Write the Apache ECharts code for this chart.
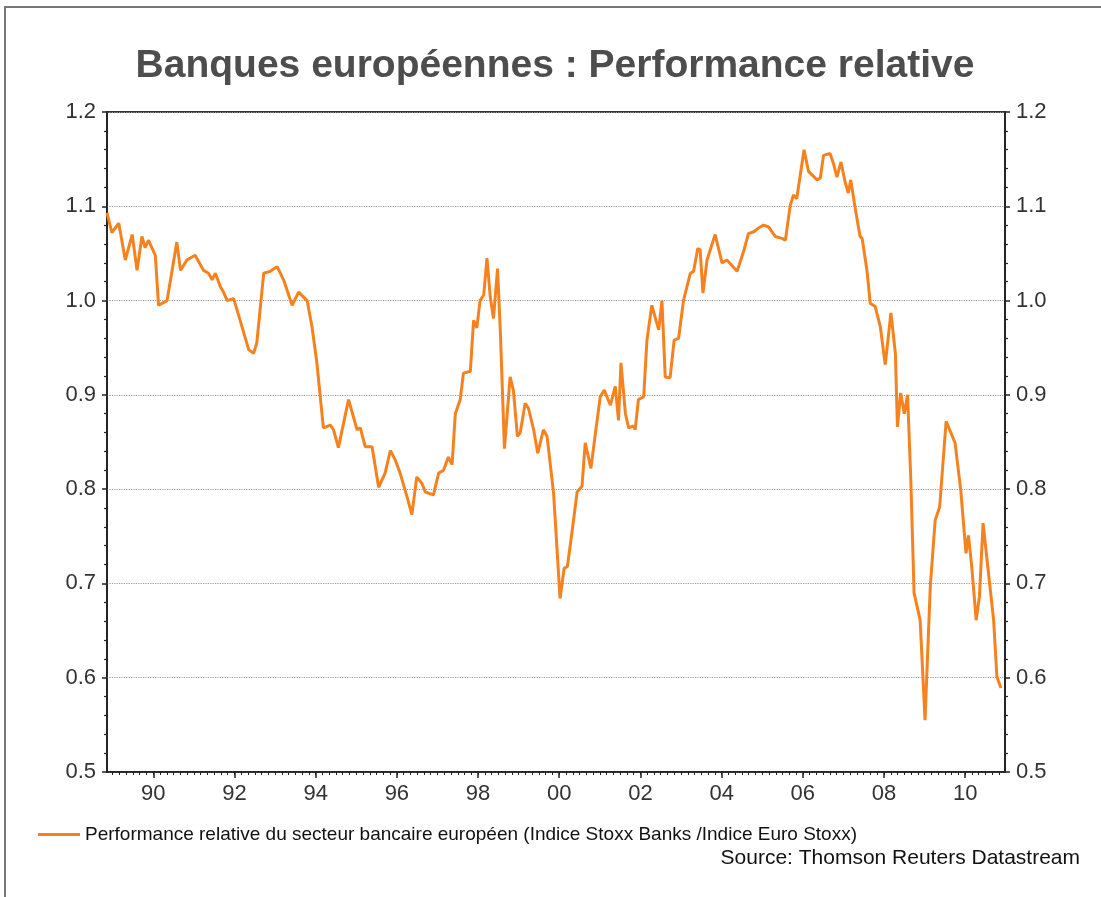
<!DOCTYPE html>
<html><head><meta charset="utf-8">
<script src="https://cdn.jsdelivr.net/npm/echarts@6/dist/echarts.min.js"></script>
<style>html,body{margin:0;padding:0;background:#fff}#c{width:1101px;height:897px}</style>
</head><body><div id="c"></div>
<script>
const titleText = 'Banques européennes : Performance relative';
const seriesName = 'Performance relative du secteur bancaire européen (Indice Stoxx Banks /Indice Euro Stoxx)';
const sourceText = 'Source: Thomson Reuters Datastream';
const xTickValues = [1990,1992,1994,1996,1998,2000,2002,2004,2006,2008,2010];
const xTickLabels = ['90','92','94','96','98','00','02','04','06','08','10'];
const yTickLabels = ['0.5','0.6','0.7','0.8','0.9','1.0','1.1','1.2'];
const years = [1988.86,1988.98,1989.15,1989.31,1989.48,1989.60,1989.72,1989.80,1989.88,1990.05,1990.13,1990.34,1990.58,1990.67,1990.83,1991.03,1991.24,1991.36,1991.45,1991.53,1991.65,1991.73,1991.82,1991.98,1992.14,1992.35,1992.47,1992.55,1992.72,1992.88,1993.05,1993.21,1993.42,1993.58,1993.79,1993.91,1994.03,1994.19,1994.36,1994.44,1994.56,1994.81,1995.02,1995.10,1995.22,1995.39,1995.55,1995.71,1995.84,1995.96,1996.08,1996.25,1996.37,1996.49,1996.62,1996.70,1996.90,1997.03,1997.15,1997.27,1997.36,1997.44,1997.56,1997.64,1997.81,1997.89,1997.97,1998.05,1998.14,1998.22,1998.30,1998.38,1998.48,1998.55,1998.65,1998.79,1998.87,1998.97,1999.04,1999.16,1999.24,1999.37,1999.47,1999.61,1999.70,1999.86,2000.02,2000.12,2000.20,2000.31,2000.44,2000.56,2000.64,2000.78,2000.89,2001.01,2001.11,2001.26,2001.38,2001.46,2001.52,2001.63,2001.71,2001.83,2001.87,2001.95,2002.08,2002.16,2002.28,2002.45,2002.53,2002.61,2002.73,2002.83,2002.94,2003.06,2003.23,2003.31,2003.41,2003.47,2003.54,2003.64,2003.84,2004.01,2004.13,2004.38,2004.54,2004.66,2004.79,2004.91,2005.03,2005.16,2005.32,2005.49,2005.57,2005.69,2005.77,2005.85,2006.03,2006.14,2006.35,2006.43,2006.51,2006.67,2006.75,2006.84,2006.94,2007.04,2007.12,2007.18,2007.29,2007.41,2007.46,2007.58,2007.66,2007.78,2007.91,2008.03,2008.17,2008.28,2008.33,2008.41,2008.50,2008.58,2008.66,2008.74,2008.89,2009.01,2009.14,2009.26,2009.37,2009.53,2009.75,2009.89,2010.02,2010.08,2010.16,2010.27,2010.35,2010.44,2010.53,2010.70,2010.78,2010.88];
const values = [1.093,1.072,1.082,1.043,1.070,1.032,1.068,1.056,1.064,1.048,
0.995,1.000,1.062,1.032,1.043,1.048,1.032,1.029,1.022,1.029,
1.015,1.009,1.000,1.002,0.979,0.948,0.944,0.955,1.029,1.031,
1.036,1.022,0.995,1.009,1.000,0.972,0.934,0.865,0.868,0.863,
0.844,0.895,0.863,0.865,0.845,0.845,0.802,0.817,0.841,0.831,
0.817,0.792,0.773,0.813,0.806,0.797,0.794,0.817,0.820,0.834,
0.826,0.880,0.895,0.923,0.925,0.979,0.971,1.000,1.006,1.045,
1.004,0.981,1.034,0.966,0.843,0.919,0.905,0.856,0.860,0.891,
0.886,0.863,0.838,0.863,0.856,0.796,0.684,0.716,0.718,0.753,
0.797,0.803,0.849,0.822,0.859,0.898,0.905,0.889,0.909,0.873,
0.934,0.880,0.865,0.867,0.863,0.895,0.898,0.958,0.995,0.969,
1.000,0.919,0.918,0.958,0.960,1.000,1.029,1.031,1.055,1.054,
1.008,1.043,1.070,1.040,1.043,1.031,1.052,1.071,1.073,1.077,
1.080,1.078,1.068,1.066,1.064,1.101,1.112,1.108,1.160,1.137,
1.128,1.130,1.154,1.156,1.146,1.131,1.147,1.126,1.114,1.128,
1.098,1.068,1.066,1.032,0.997,0.994,0.972,0.932,0.987,0.944,
0.866,0.902,0.880,0.900,0.810,0.690,0.661,0.555,0.697,0.767,
0.781,0.872,0.849,0.799,0.732,0.751,0.718,0.661,0.686,0.764,
0.728,0.661,0.601,0.589];

const X_MIN = 1988.86, X_MAX = 2010.98;
const minorTicks = [];
for (let m = Math.ceil(X_MIN * 6); m <= Math.floor(X_MAX * 6); m++) minorTicks.push(m / 6);

const FONT = '"Liberation Sans", Arial, sans-serif';
const LINE = '#F5821F';
const chart = echarts.init(document.getElementById('c'), null, {renderer: 'canvas'});
const data = years.map((t, i) => [t, values[i]]);

const yAxisCommon = {
  type: 'value', min: 0.5, max: 1.2, interval: 0.1,
  axisLine: {show: true, lineStyle: {color: '#222', width: 1.5}},
  axisTick: {show: true, inside: false, length: 5, lineStyle: {color: '#222', width: 1.5}},
  minorTick: {show: true, splitNumber: 5, length: 3, lineStyle: {color: '#222', width: 1.2}},
  axisLabel: {fontSize: 22, fontFamily: FONT, color: '#333', margin: 11,
    formatter: v => yTickLabels[Math.round((v - 0.5) * 10)]},
};

chart.setOption({
  backgroundColor: '#fff',
  animation: false,
  grid: {left: 107, right: 96, top: 112, bottom: 125, show: true, borderColor: '#333', borderWidth: 2, backgroundColor: 'transparent'},
  xAxis: [{
    type: 'value', min: X_MIN, max: X_MAX,
    axisLine: {show: true, onZero: false, lineStyle: {color: '#222', width: 1.5}},
    axisTick: {show: true, customValues: xTickValues, length: 6, lineStyle: {color: '#222', width: 1.5}},
    axisLabel: {customValues: xTickValues, fontSize: 22, fontFamily: FONT, color: '#333', margin: 11,
      formatter: v => xTickLabels[xTickValues.indexOf(Math.round(v))]},
    splitLine: {show: false}
  }, {
    type: 'value', min: X_MIN, max: X_MAX, position: 'bottom',
    axisLine: {show: false},
    axisTick: {show: true, customValues: minorTicks, length: 3, lineStyle: {color: '#222', width: 1}},
    axisLabel: {show: false},
    splitLine: {show: false}
  }],
  yAxis: [Object.assign({}, yAxisCommon, {position: 'left',
      splitLine: {show: true, lineStyle: {color: '#9a9a9a', type: 'dotted', width: 1.2}}}),
    Object.assign({}, yAxisCommon, {position: 'right', splitLine: {show: false}})],
  legend: {show: true, left: 33, top: 820, itemWidth: 42, itemHeight: 3, icon: 'rect',
    textStyle: {fontSize: 19, fontFamily: FONT, color: '#111'},
    data: [{name: seriesName, icon: 'rect'}]},
  series: [{
    name: seriesName, type: 'line', data: data, xAxisIndex: 0, yAxisIndex: 0,
    showSymbol: false, symbol: 'none', smooth: false,
    lineStyle: {color: LINE, width: 3}, itemStyle: {color: LINE}
  }],
  graphic: [
    {type: 'rect', shape: {x: 5, y: 7, width: 1200, height: 1000}, style: {fill: 'none', stroke: '#777', lineWidth: 2}, z: -1, silent: true},
    {type: 'text', x: 555, y: 66, style: {text: titleText, font: 'bold 39px ' + FONT, fill: '#4d4d4d', textAlign: 'center', textVerticalAlign: 'middle'}},
    {type: 'text', x: 1080, y: 858, style: {text: sourceText, font: '21px ' + FONT, fill: '#111', textAlign: 'right', textVerticalAlign: 'middle'}}
  ]
});
</script></body></html>
